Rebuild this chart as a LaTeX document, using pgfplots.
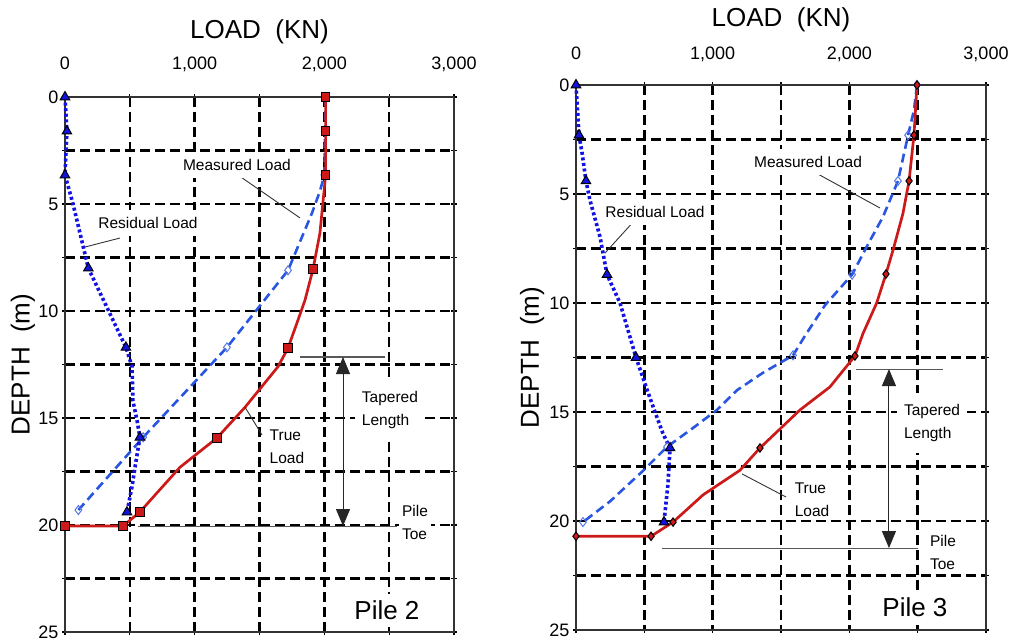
\documentclass[border=0pt]{standalone}
\usepackage{fontspec}
\setmainfont{Liberation Sans}
\usepackage{pgfplots}
\pgfplotsset{compat=1.18}
\usetikzlibrary{arrows.meta}

\definecolor{tred}{RGB}{204,26,26}
\definecolor{rblue}{RGB}{18,18,225}
\definecolor{mblue}{RGB}{40,85,225}

\tikzset{
  trueline/.style={tred, line width=2.7pt, line join=round},
  measline/.style={mblue, line width=2.6pt, dash pattern=on 9pt off 5pt},
  resline/.style={rblue, line width=3.6pt, dash pattern=on 3pt off 2.6pt},
  ann/.style={font=\fontsize{15.5}{23}\selectfont, fill=white, inner xsep=6pt, inner ysep=7pt},
  lead/.style={black!80, line width=0.9pt},
  gline/.style={black!65, line width=1.1pt},
  tarrow/.style={black!85, line width=1pt, {Triangle[width=14pt,length=17pt]}-{Triangle[width=14pt,length=17pt]}},
}

\pgfplotsset{
  pileaxis/.style={
    scale only axis, clip=false,
    y dir=reverse, xmin=0, xmax=3000, ymin=0, ymax=25,
    xtick={0,1000,2000,3000}, minor xtick={500,1500,2500},
    ytick={0,5,...,25}, minor ytick={2.5,7.5,12.5,17.5,22.5},
    xticklabel pos=top,
    grid=both,
    major grid style={black, line width=2.5pt, dash pattern=on 10pt off 5pt},
    minor grid style={black, line width=2.5pt, dash pattern=on 10pt off 5pt},
    axis line style={black!80, line width=1.8pt},
    tick style={black, line width=1.2pt},
    major tick length=6pt, minor tick length=6pt, tick align=center,
    ticklabel style={font=\fontsize{18}{20}\selectfont},
    /pgf/number format/.cd, 1000 sep={,}, assume math mode=true, /pgfplots/.cd,
    every axis x label/.style={at={(axis description cs:0.5,1)}, anchor=base, yshift=59pt, font=\fontsize{26}{28}\selectfont},
    xlabel={LOAD\ \ (KN)}, ylabel={DEPTH\ \ (m)},
  },
  resmark/.style={only marks, mark=triangle*, mark size=5.5pt, mark options={fill=rblue, draw=black, line width=1pt, solid}},
  measmark/.style={only marks, mark=diamond, mark size=4.5pt, mark options={draw=mblue!80, fill=none, line width=1pt, solid}},
}

\begin{document}
\begin{tikzpicture}
\path[use as bounding box] (0,0) rectangle (1015pt,641pt);

% ---------------- Pile 2 ----------------
\begin{axis}[pileaxis, at={(65pt,9pt)}, anchor=south west, width=389pt, height=535pt,
  xticklabel style={anchor=base, yshift=25pt},
  every axis y label/.style={at={(axis description cs:-0.108,0.5)}, rotate=90, anchor=center, font=\fontsize{26}{28}\selectfont}]
% measured load
\addplot[measline] coordinates {(2010,0) (2005,1.6) (2000,3.65) (1966,4.4) (1905,5.42) (1720,8.1) (1249,11.7) (603,15.9) (103,19.3)};
\addplot[measmark] coordinates {(2010,0) (2005,1.6) (2000,3.65) (1720,8.1) (1249,11.7) (603,15.9) (103,19.3)};
% residual load
\addplot[resline] coordinates {(0,0) (15,1.6) (0,3.65) (30,4.3) (62,5.0) (180,8.0) (470,11.7) (517,12.6) (524,14.2) (555,15.1) (578,15.9) (540,17.3) (517,18.2) (478,19.4)};
% true load
\addplot[trueline] coordinates {(2010,0) (2010,1.6) (2010,3.65) (1966,6.36) (1913,8.04) (1851,9.49) (1797,10.42) (1720,11.73) (1643,12.6) (1388,14.5) (1172,15.93) (887,17.3) (709,18.5) (578,19.39) (447,20.05) (0,20.05)};
\addplot[resmark] coordinates {(0,0) (15,1.6) (0,3.65) (180,8.0) (470,11.7) (578,15.9) (478,19.4)};
\addplot[only marks, mark=square*, mark size=4.3pt, mark options={fill=tred, draw=black, line width=1pt}] coordinates {(2010,0) (2010,1.6) (2010,3.65) (1913,8.04) (1720,11.73) (1172,15.93) (578,19.39) (447,20.05) (0,20.05)};
% annotations
\draw[lead] (axis cs:1311,3.55) -- (axis cs:1812,5.65);
\draw[lead] (axis cs:424,6.59) -- (axis cs:154,7.01);
\draw[lead] (axis cs:1388,14.49) -- (axis cs:1519,15.79);
\draw[gline] (axis cs:1812,12.15) -- (axis cs:2468,12.15);
\draw[gline] (axis cs:560,20.05) -- (axis cs:2560,20.05);
\draw[tarrow] (axis cs:2144,12.15) -- (axis cs:2144,20.05);
\node[ann] at (axis cs:1326,3.18) {Measured Load};
\node[ann] at (axis cs:640,5.89) {Residual Load};
\node[ann, align=left, inner sep=2pt] at (axis cs:1712,16.36) {True\\Load};
\node[ann, align=left, inner xsep=7pt, inner ysep=11pt] at (axis cs:2506,14.63) {Tapered\\Length};
\node[ann, align=left, inner sep=3pt] at (axis cs:2699,19.9) {Pile\\Toe};
\node[ann, font=\fontsize{26}{28}\selectfont, inner xsep=6pt, inner ysep=7pt] at (axis cs:2483,24.0) {Pile 2};
\end{axis}

% ---------------- Pile 3 ----------------
\begin{axis}[pileaxis, at={(576pt,11pt)}, anchor=south west, width=410pt, height=545pt,
  xticklabel style={anchor=base, yshift=23pt},
  every axis y label/.style={at={(axis description cs:-0.107,0.5)}, rotate=90, anchor=center, font=\fontsize{26}{28}\selectfont}]
% measured load
\addplot[measline] coordinates {(2495,0) (2473,1.15) (2430,2.3) (2356,4.4) (2246,6.05) (2137,7.3) (2020,8.7) (1822,10.1) (1676,11.5) (1588,12.4) (1368,13.2) (1178,14.0) (1032,14.9) (885,15.6) (666,16.6) (490,17.7) (249,19.1) (51,20.05)};
\addplot[measmark] coordinates {(2495,0) (2430,2.3) (2356,4.4) (2020,8.7) (1588,12.4) (666,16.6) (51,20.05)};
% residual load
\addplot[resline] coordinates {(0,0) (22,2.3) (44,3.1) (73,4.4) (102,5.28) (176,6.97) (227,8.7) (322,10.0) (439,12.5) (520,13.98) (578,15.0) (637,16.0) (688,16.65) (673,18.3) (644,20.05)};
% true load
\addplot[trueline] coordinates {(2495,0) (2473,2.3) (2437,4.4) (2392,5.9) (2320,7.57) (2268,8.67) (2200,10) (2100,11.4) (2041,12.43) (1858,13.85) (1640,14.9) (1346,16.65) (1200,17.67) (930,18.8) (710,20.05) (549,20.7) (0,20.7)};
\addplot[resmark] coordinates {(0,0) (22,2.3) (73,4.4) (227,8.7) (439,12.5) (688,16.65) (644,20.05)};
\addplot[only marks, mark=diamond*, mark size=4.2pt, mark options={fill=tred, draw=black, line width=1pt}] coordinates {(2495,0) (2473,2.3) (2437,4.4) (2268,8.67) (2041,12.43) (1346,16.65) (710,20.05) (549,20.7) (0,20.7)};
% annotations
\draw[lead] (axis cs:1690,3.81) -- (axis cs:2224,5.64);
\draw[lead] (axis cs:432,6.19) -- (axis cs:212,7.71);
\draw[lead] (axis cs:1215,17.84) -- (axis cs:1537,18.9);
\draw[gline] (axis cs:2049,13.03) -- (axis cs:2685,13.03);
\draw[gline] (axis cs:629,21.28) -- (axis cs:2502,21.28);
\draw[tarrow] (axis cs:2290,13.03) -- (axis cs:2290,21.24);
\node[ann] at (axis cs:1698,3.53) {Measured Load};
\node[ann] at (axis cs:578,5.83) {Residual Load};
\node[ann, align=left, inner sep=2pt] at (axis cs:1727,19.04) {True\\Load};
\node[ann, align=left, inner xsep=7pt, inner ysep=11pt] at (axis cs:2605,15.5) {Tapered\\Length};
\node[ann, align=left, inner sep=3pt] at (axis cs:2685,21.42) {Pile\\Toe};
\node[ann, font=\fontsize{26}{28}\selectfont, inner xsep=6pt, inner ysep=7pt] at (axis cs:2480,23.95) {Pile 3};
\end{axis}
\end{tikzpicture}
\end{document}
